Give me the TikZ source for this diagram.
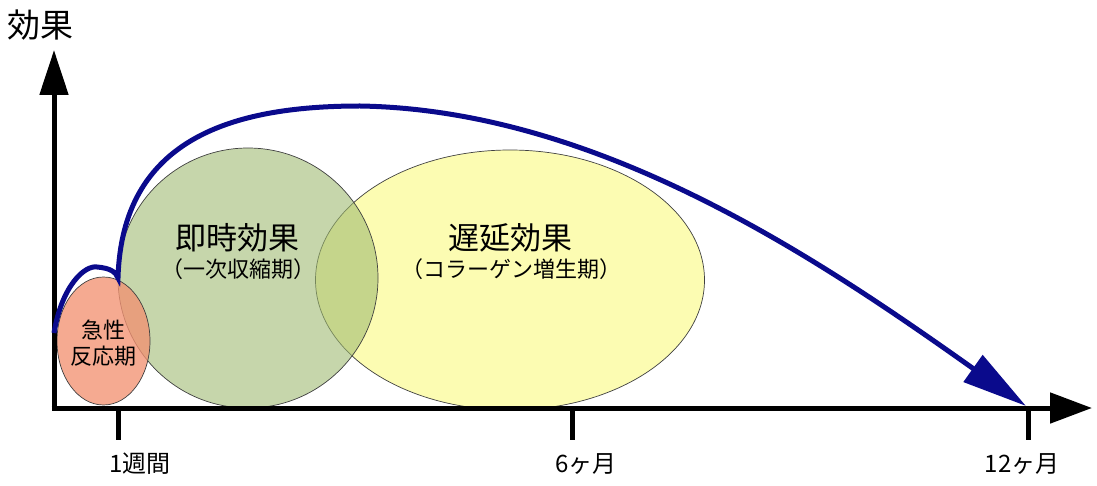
\documentclass[tikz,border=0pt]{standalone}
\usepackage{fontspec}
\setmainfont{Noto Sans CJK JP}
\usetikzlibrary{arrows.meta,shapes.geometric,positioning}
\definecolor{acutepink}{RGB}{242,146,114}
\definecolor{shrinkgreen}{RGB}{157,185,111}
\definecolor{collagenyellow}{RGB}{250,250,122}
\definecolor{curveblue}{RGB}{10,10,140}

\begin{document}
\begin{tikzpicture}[x=1pt,y=-1pt,
			axis line/.style={line width=5pt},
			phase node/.style={ellipse,draw=black!75,line width=0.7pt,fill opacity=0.58,inner sep=0pt,outer sep=0pt},
			title text/.style={font=\fontsize{31}{31}\selectfont},
			sub text/.style={font=\fontsize{22}{22}\selectfont},
			tick label/.style={font=\fontsize{24}{24}\selectfont},
			effect curve/.style={draw=curveblue,line width=5pt,-{Triangle[length=65pt,width=32pt]}}]
			
			\useasboundingbox (0,0) rectangle (1097,486);
			
			% phases
			\node[phase node,fill=collagenyellow,minimum width=389pt,minimum height=260pt] (late) at (510,280) {};
			\node[phase node,fill=shrinkgreen,minimum width=260pt,minimum height=260pt] (instant) at (248,278) {};
			\node[phase node,fill=acutepink,fill opacity=0.78,minimum width=93pt,minimum height=128pt] (acute) at (103.5,341) {};
			
			\node[title text] (instant title) at (237,238) {即時効果};
			\node[sub text] (instant sub) at (238,269) {（一次収縮期）};
			\node[title text] (late title) at (510,238) {遅延効果};
			\node[sub text] (late sub) at (511,269) {（コラーゲン増生期）};
			\node[align=center,font=\fontsize{22}{26}\selectfont] (acute title) at (103,343) {急性\\反応期};
			
			% axes
			\coordinate (O) at (54,408);
			\coordinate (ytip) at (54,50);
			\coordinate (xtip) at (1092,408);
			\draw[axis line,-{Triangle[length=45pt,width=28pt]}] ([yshift=-2.5pt]O) -- (ytip);
			\draw[axis line,-{Triangle[length=42pt,width=30pt]}] ([xshift=-2.5pt]O) -- (xtip);
			\node[font=\fontsize{33}{33}\selectfont] (effect) at (41,25) {効果};
			
			\foreach \tx/\lx/\nm/\lab in {118/140/week/1週間, 572/586/half/6ヶ月, 1028/1022/year/12ヶ月}{
				\coordinate (\nm top) at (\tx,408);
				\coordinate (\nm bot) at (\tx,440);
				\draw[axis line] (\nm top) -- (\nm bot);
				\node[tick label] (\nm label) at (\lx,464) {\lab};
			}
			
			% effect curve
			\coordinate (start) at (54,333);
			\coordinate (bump) at (97,267);
			\coordinate (cusp) at (118,278);
			\coordinate (peak) at (360,106);
			\coordinate (end) at (1026,406);
			\draw[effect curve] (start)
			.. controls (62,285) and (85,265) .. (bump)
			.. controls (110,268) and (116,272) .. (cusp)
			.. controls (122,140) and (230,106) .. (peak)
			.. controls (600,110) and (820,260) .. (end);
			\end{tikzpicture}
\end{document}
